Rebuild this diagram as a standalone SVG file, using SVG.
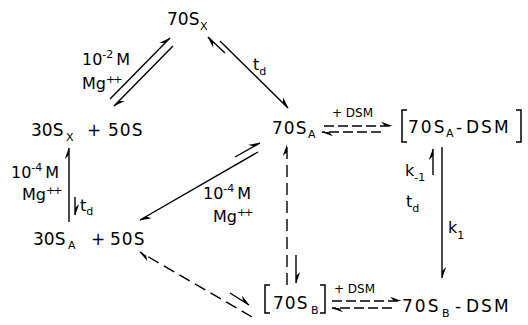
<svg xmlns="http://www.w3.org/2000/svg" width="528" height="325" viewBox="0 0 528 325">
<style>
text{font-family:"DejaVu Sans","Liberation Sans",sans-serif;fill:#000}
.n{font-size:17px}
.sb{font-size:11px}
.l{font-size:16px}
.sp{font-size:11px}
.d{font-size:12px}
.c{stroke:#000;stroke-width:1.4;fill:none}
.h{marker-end:url(#harp)}
.dash{stroke-dasharray:12 6}
.eq{stroke-dasharray:10 4}
.br{stroke:#000;stroke-width:1.5;fill:none}
</style>
<defs>
<marker id="harp" viewBox="-13 -5 14 10" markerWidth="14" markerHeight="10" refX="0" refY="0" orient="auto" markerUnits="userSpaceOnUse">
<path d="M0.8,0 L-11,-4.2 L-7,0 Z" fill="#000"/>
</marker>
</defs>
<rect width="528" height="325" fill="#fff"/>
<g id="connectors">
<path class="c h" d="M110,99 L170,38"/>
<path class="c h" d="M173,46 L114,106"/>
<path class="c h" d="M220,41 L288,108"/>
<path class="c h" d="M225,53 L208,37"/>
<path class="c h" d="M258,152 L140,220"/>
<path class="c h" d="M235,157 L260,143"/>
<path class="c h" d="M69,222 L69,148"/>
<path class="c h" d="M75,197 L75,215"/>
<path class="c h dash" d="M287,285 L287,145"/>
<path class="c h" d="M296,255 L296,283"/>
<path class="c h dash" d="M252,317 L140,252"/>
<path class="c h" d="M230,293 L249,305"/>
<path class="c h eq" d="M324,126 L392,126"/>
<path class="c h eq" d="M381,132 L322,132"/>
<path class="c h" d="M442,147 L442,278"/>
<path class="c h" d="M433,175 L433,149"/>
<path class="c h eq" d="M332,301 L401,301"/>
<path class="c h eq" d="M392,308 L332,308"/>
</g>
<g id="n70Sx">
<text class="n" x="167" y="25">70S</text><text class="sb" x="200" y="30">X</text>
</g>
<g id="n30Sx50S">
<text class="n" x="31" y="136">30S</text><text class="sb" x="66" y="141">X</text>
<text class="n" x="87" y="136">+</text><text class="n" x="108" y="136" letter-spacing="1">50S</text>
</g>
<g id="n30SA50S">
<text class="n" x="33" y="245">30S</text><text class="sb" x="68" y="249">A</text>
<text class="n" x="91" y="245">+</text><text class="n" x="110" y="245" letter-spacing="1">50S</text>
</g>
<g id="n70SA">
<text class="n" x="272" y="134" letter-spacing="1">70S</text><text class="sb" x="308" y="138">A</text>
</g>
<g id="n70SA-DSM">
<path class="br" d="M407,110 H402 V142 H407"/>
<text class="n" x="408" y="133" letter-spacing="2">70S</text><text class="sb" x="446" y="137">A</text>
<text class="n" x="456" y="133">-</text><text class="n" x="466" y="133" letter-spacing="2">DSM</text>
<path class="br" d="M516,110 H521 V142 H516"/>
</g>
<g id="n70SB">
<path class="br" d="M270,285 H265 V313 H270"/>
<text class="n" x="273" y="309" letter-spacing="1">70S</text><text class="sb" x="311" y="314">B</text>
<path class="br" d="M320,285 H325 V313 H320"/>
</g>
<g id="n70SB-DSM">
<text class="n" x="402" y="312" letter-spacing="2">70S</text><text class="sb" x="442" y="317">B</text>
<text class="n" x="455" y="312">-</text><text class="n" x="466" y="312" letter-spacing="2">DSM</text>
</g>
<g id="labels">
<text class="l" x="82" y="65">10<tspan class="sp" dy="-7">-2</tspan><tspan dy="7" dx="3">M</tspan></text>
<text class="l" x="82" y="89">Mg<tspan class="sp" dy="-6" letter-spacing="-2">++</tspan></text>
<text class="l" x="253" y="70">t<tspan class="sb" dy="5">d</tspan></text>
<text class="l" x="11" y="178">10<tspan class="sp" dy="-7">-4</tspan><tspan dy="7" dx="3">M</tspan></text>
<text class="l" x="22" y="200">Mg<tspan class="sp" dy="-6" letter-spacing="-2">++</tspan></text>
<text class="l" x="80" y="211">t<tspan class="sb" dy="4">d</tspan></text>
<text class="l" x="203" y="199">10<tspan class="sp" dy="-7">-4</tspan><tspan dy="7" dx="3">M</tspan></text>
<text class="l" x="213" y="222">Mg<tspan class="sp" dy="-6" letter-spacing="-2">++</tspan></text>
<text class="d" x="332" y="117">+ DSM</text>
<text class="d" x="334" y="293">+ DSM</text>
<text class="l" x="405" y="176">k<tspan class="sb" dy="5">-1</tspan></text>
<text class="l" x="406" y="207">t<tspan class="sb" dy="5">d</tspan></text>
<text class="l" x="448" y="233">k<tspan class="sb" dy="6">1</tspan></text>
</g>
</svg>
